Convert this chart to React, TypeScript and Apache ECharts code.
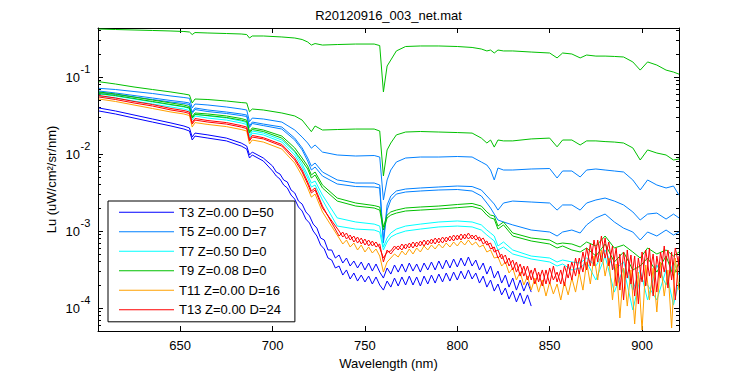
import React, { useEffect, useRef } from 'react';
import * as echarts from 'echarts';

// Wavelength grids (nm)
const wlMain = [606, 615, 625, 635, 645, 652, 655, 656.5, 658, 665, 675, 683, 686, 687.5, 689, 695, 705, 712, 716, 719, 721, 723, 727, 735, 745, 755, 758, 760, 762, 764, 767, 772, 780, 790, 800, 808, 813, 816, 818, 820, 822, 825, 830, 840, 850, 854, 857, 862, 866.5, 870, 875, 880, 885, 890, 895, 899, 903, 908, 913, 917, 920];
const wlNoisy = [736, 738, 740, 742, 744, 746, 748, 750, 752, 754, 756, 758, 760, 762, 764, 766, 768, 770, 772, 774, 776, 778, 780, 782, 784, 786, 788, 790, 792, 794, 796, 798, 800, 802, 804, 806, 808, 810, 812, 814, 816, 818, 820, 822, 824, 826, 828, 830, 832, 834, 836, 838, 840, 842, 844, 846, 848, 850, 852, 854, 856, 858, 860, 862, 864, 866, 868, 870, 872, 874, 876, 878, 880, 882, 884, 886, 888, 890, 892, 894, 896, 898, 900, 902, 904, 906, 908, 910, 912, 914, 916, 918, 920];
const wlT3 = [700, 702, 704, 706, 708, 710, 712, 714, 716, 718, 720, 722, 724, 726, 728, 730, 732, 734, 736, 738, 740, 742, 744, 746, 748, 750, 752, 754, 756, 758, 760, 762, 764, 766, 768, 770, 772, 774, 776, 778, 780, 782, 784, 786, 788, 790, 792, 794, 796, 798, 800, 802, 804, 806, 808, 810, 812, 814, 816, 818, 820, 822, 824, 826, 828, 830, 832, 834, 836, 838, 840];

// T9 (green) lines on wlMain
const t9Top = [0.420, 0.414, 0.408, 0.402, 0.396, 0.390, 0.384, 0.356, 0.378, 0.373,
  0.367, 0.362, 0.356, 0.321, 0.341, 0.341, 0.331, 0.321, 0.307, 0.285,
  0.260, 0.272, 0.260, 0.264, 0.268, 0.268, 0.256, 0.064, 0.139, 0.166,
  0.218, 0.249, 0.253, 0.253, 0.249, 0.242, 0.231, 0.218, 0.224, 0.205,
  0.224, 0.218, 0.218, 0.211, 0.205, 0.177, 0.205, 0.199, 0.177, 0.193,
  0.187, 0.187, 0.185, 0.182, 0.157, 0.123, 0.157, 0.143, 0.123, 0.116, 0.109];
const t9Mid = [0.0869, 0.0811, 0.0742, 0.0688, 0.0639, 0.0602, 0.0584, 0.0460, 0.0518, 0.0510,
  0.0488, 0.0466, 0.0460, 0.0354, 0.0384, 0.0373, 0.0341, 0.0312, 0.0276, 0.0224,
  0.0195, 0.0231, 0.0205, 0.0208, 0.0211, 0.0211, 0.0199, 0.00518, 0.0113, 0.0139,
  0.0177, 0.0193, 0.0196, 0.0193, 0.0190, 0.0187, 0.0161, 0.0139, 0.0152, 0.0123,
  0.0152, 0.0148, 0.0148, 0.0157, 0.0161, 0.0124, 0.0152, 0.0152, 0.0131, 0.0148,
  0.0148, 0.0145, 0.0143, 0.0139, 0.0120, 0.00836, 0.0113, 0.0103, 0.00971, 0.00836, 0.00861];
const t9Low = [0.0639, 0.0602, 0.0550, 0.0503, 0.0460, 0.0433, 0.0414, 0.0305, 0.0341, 0.0331,
  0.0312, 0.0289, 0.0276, 0.0195, 0.0218, 0.0205, 0.0171, 0.0120, 0.00887, 0.00698,
  0.00534, 0.00584, 0.00396, 0.00268, 0.00231, 0.00214, 0.00205, 0.00113, 0.00161, 0.00177,
  0.00187, 0.00199, 0.00205, 0.00211, 0.00221, 0.00228, 0.00211, 0.00177, 0.00161, 0.00157,
  0.00116, 0.00131, 0.000942, 0.000811, 0.000764, 0.000678, 0.000698, 0.000678, 0.000620, 0.000720,
  0.000639, 0.000861, 0.000602, 0.000658, 0.000534, 0.000446, 0.000602, 0.000503, 0.000567, 0.000473, 0.000534];
const t9Low2 = [0.0611, 0.0575, 0.0526, 0.0481, 0.0439, 0.0414, 0.0396, 0.0293, 0.0326, 0.0316,
  0.0298, 0.0276, 0.0264, 0.0187, 0.0208, 0.0196, 0.0161, 0.0109, 0.00811, 0.00639,
  0.00488, 0.00534, 0.00362, 0.00245, 0.00211, 0.00199, 0.00187, 0.00103, 0.00148, 0.00161,
  0.00171, 0.00182, 0.00187, 0.00193, 0.00201, 0.00208, 0.00193, 0.00161, 0.00148, 0.00143,
  0.00106, 0.00120, 0.000861, 0.000742, 0.000678, 0.000602, 0.000639, 0.000567, 0.000534, 0.000602,
  0.000473, 0.000678, 0.000396, 0.000534, 0.000312, 0.000351, 0.000446, 0.000293, 0.000473, 0.000260, 0.000396];

// T5 (mid blue) lines on wlMain
const t5a = [0.0713, 0.0688, 0.0648, 0.0611, 0.0567, 0.0542, 0.0529, 0.0396, 0.0446, 0.0433,
  0.0408, 0.0384, 0.0373, 0.0263, 0.0293, 0.0285, 0.0260, 0.0205, 0.0166, 0.0139,
  0.0119, 0.0131, 0.0106, 0.00971, 0.00942, 0.00956, 0.00914, 0.00253, 0.00460, 0.00620,
  0.00787, 0.00887, 0.00914, 0.00914, 0.00928, 0.00914, 0.00787, 0.00720, 0.00620, 0.00460,
  0.00658, 0.00620, 0.00620, 0.00639, 0.00648, 0.00488, 0.00602, 0.00602, 0.00503, 0.00620,
  0.00639, 0.00620, 0.00602, 0.00584, 0.00460, 0.00341, 0.00460, 0.00396, 0.00362, 0.00384, 0.00293];
const t5b = [0.0658, 0.0620, 0.0575, 0.0534, 0.0495, 0.0473, 0.0460, 0.0351, 0.0396, 0.0373,
  0.0351, 0.0331, 0.0321, 0.0231, 0.0260, 0.0245, 0.0224, 0.0161, 0.0120, 0.00887,
  0.00698, 0.00764, 0.00584, 0.00460, 0.00420, 0.00420, 0.00396, 0.000764, 0.00218, 0.00285,
  0.00331, 0.00351, 0.00362, 0.00373, 0.00384, 0.00378, 0.00341, 0.00285, 0.00253, 0.00224,
  0.00187, 0.00231, 0.00245, 0.00238, 0.00231, 0.00187, 0.00218, 0.00218, 0.00187, 0.00231,
  0.00253, 0.00268, 0.00245, 0.00218, 0.00177, 0.00139, 0.00166, 0.00171, 0.00143, 0.00166, 0.00148];
const t5c = [0.0629, 0.0593, 0.0550, 0.0510, 0.0473, 0.0453, 0.0439, 0.0336, 0.0378, 0.0356,
  0.0336, 0.0316, 0.0307, 0.0221, 0.0249, 0.0234, 0.0211, 0.0152, 0.0113, 0.00811,
  0.00620, 0.00678, 0.00518, 0.00408, 0.00378, 0.00373, 0.00362, 0.000698, 0.00187, 0.00253,
  0.00302, 0.00321, 0.00331, 0.00341, 0.00346, 0.00331, 0.00285, 0.00231, 0.00199, 0.00166,
  0.00139, 0.00131, 0.00120, 0.00103, 0.000971, 0.000861, 0.000971, 0.00103, 0.000942, 0.00120,
  0.00148, 0.00166, 0.00131, 0.00109, 0.000971, 0.000764, 0.000971, 0.000861, 0.00103, 0.000887, 0.000971];

// T7 (cyan) on wlMain
const t7 = [0.0602, 0.0567, 0.0518, 0.0473, 0.0433, 0.0408, 0.0390, 0.0293, 0.0331, 0.0312,
  0.0293, 0.0268, 0.0256, 0.0171, 0.0199, 0.0187, 0.0152, 0.0106, 0.00742, 0.00534,
  0.00420, 0.00446, 0.00293, 0.00148, 0.00131, 0.00123, 0.00116, 0.000620, 0.000811, 0.000942,
  0.00106, 0.00116, 0.00123, 0.00131, 0.00135, 0.00131, 0.00120, 0.00103, 0.000942, 0.000861,
  0.000639, 0.000720, 0.000567, 0.000473, 0.000446, 0.000396, 0.000420, 0.000396, 0.000384, 0.000446,
  0.000351, 0.000567, 0.000312, 0.000396, 0.000171, 0.000312, 0.000127, 0.000362, 0.000199, 0.000396, 0.000268];
const t7b = [0.0567, 0.0534, 0.0488, 0.0446, 0.0408, 0.0384, 0.0367, 0.0276, 0.0312, 0.0293,
  0.0276, 0.0253, 0.0242, 0.0161, 0.0187, 0.0177, 0.0143, 0.00971, 0.00678, 0.00488,
  0.00373, 0.00396, 0.00253, 0.00116, 0.00106, 0.00103, 0.000971, 0.000567, 0.000720, 0.000836,
  0.000914, 0.00100, 0.00106, 0.00113, 0.00116, 0.00113, 0.00103, 0.000887, 0.000811, 0.000742,
  0.000567, 0.000620, 0.000503, 0.000433, 0.000396, 0.000351, 0.000373, 0.000312, 0.000331, 0.000396,
  0.000231, 0.000473, 0.000161, 0.000331, 0.0000942, 0.000245, 0.000199, 0.000127, 0.000312, 0.000109, 0.000218];

// T13 (red): heads on first 23 wlMain points, tails on wlNoisy
const t13Head = [0.0550, 0.0510, 0.0460, 0.0420, 0.0373, 0.0351, 0.0336, 0.0245, 0.0276, 0.0260,
  0.0245, 0.0224, 0.0214, 0.0148, 0.0166, 0.0157, 0.0127, 0.00836, 0.00584, 0.00408,
  0.00312, 0.00341, 0.00199];
const t13Tail = [0.001000, 0.000836, 0.000942, 0.000764, 0.000861, 0.000698, 0.000811, 0.000658, 0.000764, 0.000639,
  0.000720, 0.000602, 0.000446, 0.000534, 0.000550, 0.000639, 0.000567, 0.000678, 0.000584, 0.000698,
  0.000602, 0.000720, 0.000639, 0.000764, 0.000658, 0.000787, 0.000678, 0.000811, 0.000698, 0.000836,
  0.000742, 0.000887, 0.000764, 0.000914, 0.000787, 0.000942, 0.000787, 0.000887, 0.000742, 0.000811,
  0.000658, 0.000698, 0.000534, 0.000567, 0.000433, 0.000488, 0.000351, 0.000420, 0.000293, 0.000373,
  0.000260, 0.000351, 0.000231, 0.000331, 0.000218, 0.000312, 0.000205, 0.000331, 0.000231, 0.000293,
  0.000205, 0.000351, 0.000245, 0.000396, 0.000260, 0.000446, 0.000293, 0.000602, 0.000351, 0.000764,
  0.000396, 0.000861, 0.000446, 0.000720, 0.000312, 0.000602, 0.000171, 0.000534, 0.000245, 0.000488,
  0.000143, 0.000446, 0.000218, 0.000567, 0.000260, 0.000503, 0.000161, 0.000534, 0.000293, 0.000567,
  0.000231, 0.000602, 0.000351];
const t13bHead = [0.0575, 0.0534, 0.0481, 0.0439, 0.0390, 0.0367, 0.0351, 0.0256, 0.0289, 0.0272,
  0.0256, 0.0234, 0.0224, 0.0154, 0.0174, 0.0163, 0.0133, 0.00887, 0.00620, 0.00433,
  0.00331, 0.00362, 0.00211];
const t13bTail = [0.000861, 0.000971, 0.000787, 0.000887, 0.000720, 0.000836, 0.000678, 0.000787, 0.000639, 0.000742,
  0.000620, 0.000678, 0.000396, 0.000567, 0.000503, 0.000584, 0.000639, 0.000567, 0.000678, 0.000602,
  0.000720, 0.000620, 0.000742, 0.000639, 0.000764, 0.000678, 0.000811, 0.000698, 0.000836, 0.000720,
  0.000861, 0.000742, 0.000887, 0.000764, 0.000914, 0.000787, 0.000887, 0.000764, 0.000836, 0.000678,
  0.000742, 0.000584, 0.000620, 0.000446, 0.000503, 0.000373, 0.000446, 0.000312, 0.000396, 0.000260,
  0.000351, 0.000231, 0.000312, 0.000205, 0.000293, 0.000193, 0.000312, 0.000205, 0.000351, 0.000218,
  0.000312, 0.000193, 0.000373, 0.000231, 0.000446, 0.000276, 0.000534, 0.000312, 0.000678, 0.000351,
  0.000764, 0.000396, 0.000811, 0.000351, 0.000639, 0.000193, 0.000503, 0.000127, 0.000567, 0.000205,
  0.000473, 0.000113, 0.000534, 0.000193, 0.000602, 0.000143, 0.000473, 0.000245, 0.000639, 0.000182,
  0.000534, 0.000127, 0.000473];

// T11 (orange)
const t11Head = [0.0518, 0.0481, 0.0433, 0.0390, 0.0351, 0.0331, 0.0316, 0.0224, 0.0256, 0.0242,
  0.0227, 0.0208, 0.0199, 0.0135, 0.0152, 0.0143, 0.0116, 0.00764, 0.00518, 0.00362,
  0.00276, 0.00302, 0.00177];
const t11Tail = [0.000811, 0.000678, 0.000764, 0.000620, 0.000698, 0.000567, 0.000658, 0.000534, 0.000620, 0.000518,
  0.000584, 0.000473, 0.000293, 0.000396, 0.000446, 0.000503, 0.000460, 0.000550, 0.000488, 0.000584,
  0.000503, 0.000602, 0.000534, 0.000639, 0.000567, 0.000658, 0.000584, 0.000678, 0.000602, 0.000698,
  0.000620, 0.000720, 0.000639, 0.000742, 0.000658, 0.000764, 0.000658, 0.000720, 0.000620, 0.000658,
  0.000534, 0.000567, 0.000446, 0.000460, 0.000351, 0.000396, 0.000285, 0.000331, 0.000231, 0.000293,
  0.000199, 0.000260, 0.000171, 0.000245, 0.000161, 0.000231, 0.000143, 0.000218, 0.000152, 0.000205,
  0.000127, 0.000218, 0.000148, 0.000245, 0.000161, 0.000293, 0.000171, 0.000396, 0.000205, 0.000473,
  0.000231, 0.000567, 0.000260, 0.000446, 0.000127, 0.000373, 0.0000742, 0.000331, 0.000106, 0.000312,
  0.0000620, 0.000293, 0.0000518, 0.000362, 0.000127, 0.000331, 0.0000887, 0.000396, 0.000143, 0.000312,
  0.0000550, 0.000446, 0.000171];

// T3 (dark blue): heads on first 16 wlMain points, tails on wlT3
const t3aHead = [0.0396, 0.0362, 0.0321, 0.0285, 0.0253, 0.0231, 0.0218, 0.0166, 0.0187, 0.0177,
  0.0161, 0.0139, 0.0127, 0.00971, 0.0106, 0.00887];
const t3aTail = [0.00698, 0.00584, 0.00550, 0.00460, 0.00433, 0.00341, 0.00312, 0.00245, 0.00224, 0.00177,
  0.00157, 0.00123, 0.00109, 0.000811, 0.000764, 0.000567, 0.000567, 0.000446, 0.000488, 0.000384,
  0.000446, 0.000351, 0.000408, 0.000331, 0.000396, 0.000312, 0.000384, 0.000302, 0.000373, 0.000293,
  0.000245, 0.000331, 0.000276, 0.000362, 0.000293, 0.000373, 0.000293, 0.000384, 0.000302, 0.000373,
  0.000293, 0.000384, 0.000312, 0.000396, 0.000312, 0.000408, 0.000321, 0.000420, 0.000331, 0.000433,
  0.000341, 0.000446, 0.000351, 0.000460, 0.000351, 0.000420, 0.000312, 0.000384, 0.000276, 0.000351,
  0.000245, 0.000302, 0.000211, 0.000268, 0.000187, 0.000245, 0.000171, 0.000231, 0.000166, 0.000218,
  0.000161];
const t3bHead = [0.0362, 0.0331, 0.0293, 0.0260, 0.0231, 0.0211, 0.0199, 0.0152, 0.0171, 0.0161,
  0.0148, 0.0127, 0.0116, 0.00887, 0.00971, 0.00811];
const t3bTail = [0.00602, 0.00518, 0.00473, 0.00396, 0.00362, 0.00293, 0.00260, 0.00205, 0.00182, 0.00143,
  0.00127, 0.00100, 0.000861, 0.000658, 0.000584, 0.000446, 0.000420, 0.000331, 0.000351, 0.000268,
  0.000312, 0.000238, 0.000285, 0.000224, 0.000268, 0.000218, 0.000260, 0.000205, 0.000253, 0.000199,
  0.000171, 0.000224, 0.000187, 0.000245, 0.000193, 0.000253, 0.000199, 0.000260, 0.000199, 0.000253,
  0.000193, 0.000260, 0.000205, 0.000268, 0.000211, 0.000276, 0.000218, 0.000285, 0.000224, 0.000293,
  0.000231, 0.000302, 0.000238, 0.000312, 0.000238, 0.000285, 0.000211, 0.000260, 0.000187, 0.000231,
  0.000166, 0.000205, 0.000148, 0.000182, 0.000131, 0.000166, 0.000120, 0.000157, 0.000113, 0.000148,
  0.000106];

const legendNames = ['T3 Z=0.00 D=50', 'T5 Z=0.00 D=7', 'T7 Z=0.50 D=0', 'T9 Z=0.08 D=0', 'T11 Z=0.00 D=16', 'T13 Z=0.00 D=24'];
const colors = ['#0000ff', '#0080ff', '#00ffff', '#00c000', '#ffa000', '#ff0000'];

const xTicks = [650, 700, 750, 800, 850, 900];
const yMajor = [1e-4, 1e-3, 1e-2, 1e-1];
const yMajorExp = ['-4', '-3', '-2', '-1'];
const yMinor = [6e-5, 7e-5, 8e-5, 9e-5, 2e-4, 3e-4, 4e-4, 5e-4, 6e-4, 7e-4, 8e-4, 9e-4,
  2e-3, 3e-3, 4e-3, 5e-3, 6e-3, 7e-3, 8e-3, 9e-3, 2e-2, 3e-2, 4e-2, 5e-2, 6e-2, 7e-2, 8e-2, 9e-2,
  2e-1, 3e-1, 4e-1];
const xMin = 605.5;
const xMax = 920;
const yMin = 5.03e-5;
const yMax = 0.433;

const FONT = '"Liberation Sans", Arial, Helvetica, sans-serif';

function pairs(wl: number[], vals: number[]) {
  return vals.map((v, i) => [wl[i], v]);
}
function joined(wlA: number[], a: number[], wlB: number[], b: number[]) {
  return pairs(wlA, a).concat(pairs(wlB, b));
}

export default function App() {
  const ref = useRef<HTMLDivElement>(null);
  useEffect(() => {
    const chart = echarts.init(ref.current!, null, { renderer: 'svg' });
    const line = (name: string, color: string, data: number[][]) => ({
      type: 'line', name, data, symbol: 'none', showSymbol: false,
      lineStyle: { color, width: 1 }, itemStyle: { color },
      xAxisIndex: 0, yAxisIndex: 0, animation: false, silent: true, clip: true,
    });
    const series = [
      line(legendNames[0], colors[0], joined(wlMain, t3aHead, wlT3, t3aTail)),
      line(legendNames[0], colors[0], joined(wlMain, t3bHead, wlT3, t3bTail)),
      line(legendNames[1], colors[1], pairs(wlMain, t5a)),
      line(legendNames[1], colors[1], pairs(wlMain, t5b)),
      line(legendNames[1], colors[1], pairs(wlMain, t5c)),
      line(legendNames[2], colors[2], pairs(wlMain, t7)),
      line(legendNames[2], colors[2], pairs(wlMain, t7b)),
      line(legendNames[3], colors[3], pairs(wlMain, t9Top)),
      line(legendNames[3], colors[3], pairs(wlMain, t9Mid)),
      line(legendNames[3], colors[3], pairs(wlMain, t9Low)),
      line(legendNames[3], colors[3], pairs(wlMain, t9Low2)),
      line(legendNames[4], colors[4], joined(wlMain, t11Head, wlNoisy, t11Tail)),
      line(legendNames[5], colors[5], joined(wlMain, t13Head, wlNoisy, t13Tail)),
      line(legendNames[5], colors[5], joined(wlMain, t13bHead, wlNoisy, t13bTail)),
    ];
    const axisLine = { show: true, lineStyle: { color: '#000', width: 1 } };
    const yBase = { type: 'log', logBase: 10, min: yMin, max: yMax, splitLine: { show: false } };
    const xBase = { type: 'value', min: xMin, max: xMax, splitLine: { show: false } };
    const titleText = {
      type: 'text', x: 388.5, y: 15, z: 10,
      style: { text: 'R20120916_003_net.mat', fill: '#000', font: `13px ${FONT}`, align: 'center', verticalAlign: 'middle' },
    };
    const option: any = {
      animation: false,
      backgroundColor: '#fff',
      grid: { left: 98, right: 71, top: 28, bottom: 44, containLabel: false, show: false },
      graphic: [titleText],
      legend: {
        orient: 'vertical', left: 108, top: 201, data: legendNames,
        icon: 'rect', itemWidth: 55, itemHeight: 1, itemGap: 6.5,
        padding: [4.8, 14, 5.5, 11],
        borderColor: '#000', borderWidth: 1, backgroundColor: '#fff',
        textStyle: { fontSize: 13, color: '#000', fontFamily: FONT },
        selectedMode: false, z: 10,
      },
      xAxis: [
        {
          ...xBase, position: 'bottom', axisLine,
          axisTick: { show: true, inside: true, length: 5, customValues: xTicks, lineStyle: { color: '#000' } },
          axisLabel: { customValues: xTicks, color: '#000', fontSize: 13, fontFamily: FONT, margin: 8 },
          name: 'Wavelength (nm)', nameLocation: 'middle', nameGap: 16,
          nameTextStyle: { color: '#000', fontSize: 13, fontFamily: FONT },
        },
        {
          ...xBase, position: 'top', axisLine,
          axisTick: { show: true, inside: true, length: 5, customValues: xTicks, lineStyle: { color: '#000' } },
          axisLabel: { show: false },
        },
      ],
      yAxis: [
        {
          ...yBase, position: 'left', axisLine,
          axisTick: { show: true, inside: true, length: 5, customValues: yMajor, lineStyle: { color: '#000' } },
          axisLabel: { show: false },
          name: 'Lu (uW/cm²/sr/nm)', nameLocation: 'middle', nameGap: 40,
          nameTextStyle: { color: '#000', fontSize: 13, fontFamily: FONT },
        },
        {
          ...yBase, position: 'left', axisLine: { show: false },
          axisTick: { show: true, inside: true, length: 3, customValues: yMinor, lineStyle: { color: '#000' } },
          axisLabel: { show: false },
        },
        {
          ...yBase, position: 'right', axisLine,
          axisTick: { show: true, inside: true, length: 5, customValues: yMajor, lineStyle: { color: '#000' } },
          axisLabel: { show: false },
        },
        {
          ...yBase, position: 'right', axisLine: { show: false },
          axisTick: { show: true, inside: true, length: 3, customValues: yMinor, lineStyle: { color: '#000' } },
          axisLabel: { show: false },
        },
      ],
      series,
    };
    chart.setOption(option);
    // y tick labels "10" with superscript exponent, placed at the axis' own tick positions
    const labelEls: any[] = [];
    yMajor.forEach((v, i) => {
      const py = chart.convertToPixel({ yAxisIndex: 0 }, v) as number;
      labelEls.push({
        type: 'text', x: 80, y: py + 0.5, z: 10,
        style: { text: '10', fill: '#000', font: `13px ${FONT}`, align: 'right', verticalAlign: 'middle' },
      });
      labelEls.push({
        type: 'text', x: 80.5, y: py - 8.5, z: 10,
        style: { text: yMajorExp[i], fill: '#000', font: `11px ${FONT}`, align: 'left', verticalAlign: 'middle' },
      });
    });
    chart.setOption({ graphic: [titleText, ...labelEls] });
    return () => chart.dispose();
  }, []);
  return <div ref={ref} style={{ position: 'fixed', left: 0, top: 0, width: 750, height: 375, background: '#fff' }} />;
}
